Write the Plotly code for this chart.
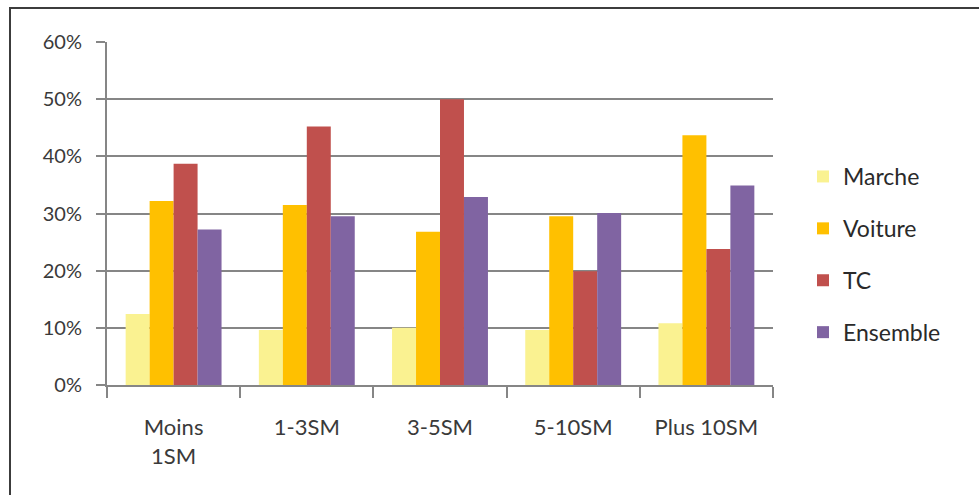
import plotly.graph_objects as go

categories = ["Moins<br>1SM", "1-3SM", "3-5SM", "5-10SM", "Plus 10SM"]
marche = [12.4, 9.6, 10.0, 9.6, 10.8]
voiture = [32.2, 31.5, 26.8, 29.5, 43.7]
tc = [38.7, 45.2, 50.0, 19.9, 23.8]
ensemble = [27.2, 29.5, 32.9, 30.1, 34.9]
series_names = ["Marche", "Voiture", "TC", "Ensemble"]
colors = ["#FAF291", "#FFC000", "#C0504D", "#8064A2"]
ytick_vals = [0, 10, 20, 30, 40, 50, 60]
ytick_text = ["0%", "10%", "20%", "30%", "40%", "50%", "60%"]

fig = go.Figure()
for name, vals, col in zip(series_names, [marche, voiture, tc, ensemble], colors):
    fig.add_trace(go.Bar(x=categories, y=vals, name=name, marker_color=col,
                         marker_line_width=0, legendgroup=name))

L, R, T, B = 107, 206, 42, 110
W, H = 979, 495
pw, ph = W - L - R, H - T - B

def px(x):
    return (x - L) / pw

def py(y):
    return (H - B - y) / ph

fig.update_layout(
    width=W, height=H,
    margin=dict(l=L, r=R, t=T, b=B, autoexpand=False),
    paper_bgcolor="white", plot_bgcolor="white",
    font=dict(family="Lato, Open Sans, sans-serif", color="#3a3a3a", size=21),
    bargap=0.28, bargroupgap=0,
    showlegend=True,
    legend=dict(x=px(803), y=py(155), xanchor="left", yanchor="top",
                font=dict(size=23, color="#2a2a2a"),
                traceorder="grouped", tracegroupgap=19,
                itemwidth=30, bgcolor="rgba(0,0,0,0)"),
    xaxis=dict(showline=True, linecolor="#868686", linewidth=2,
               ticks="outside", tickson="boundaries", ticklen=11,
               tickcolor="#868686", tickwidth=2, ticklabelstandoff=22,
               tickfont=dict(size=22, color="#3a3a3a"), showgrid=False),
    yaxis=dict(range=[0, 60], tickvals=ytick_vals, ticktext=ytick_text,
               showline=True, linecolor="#868686", linewidth=2,
               ticks="outside", ticklen=9, tickcolor="#868686", tickwidth=2,
               showgrid=True, gridcolor="#868686", gridwidth=2,
               zeroline=False, ticklabelstandoff=10,
               tickfont=dict(size=20, color="#3a3a3a")),
    shapes=[dict(type="rect", xref="paper", yref="paper",
                 x0=px(10), x1=px(1000), y0=py(520), y1=py(8),
                 line=dict(color="#3c3c3c", width=2), fillcolor="rgba(0,0,0,0)",
                 layer="below")],
)

fig.write_html("out.html", config={"displayModeBar": False},
               post_script="document.body.style.margin='0';")
